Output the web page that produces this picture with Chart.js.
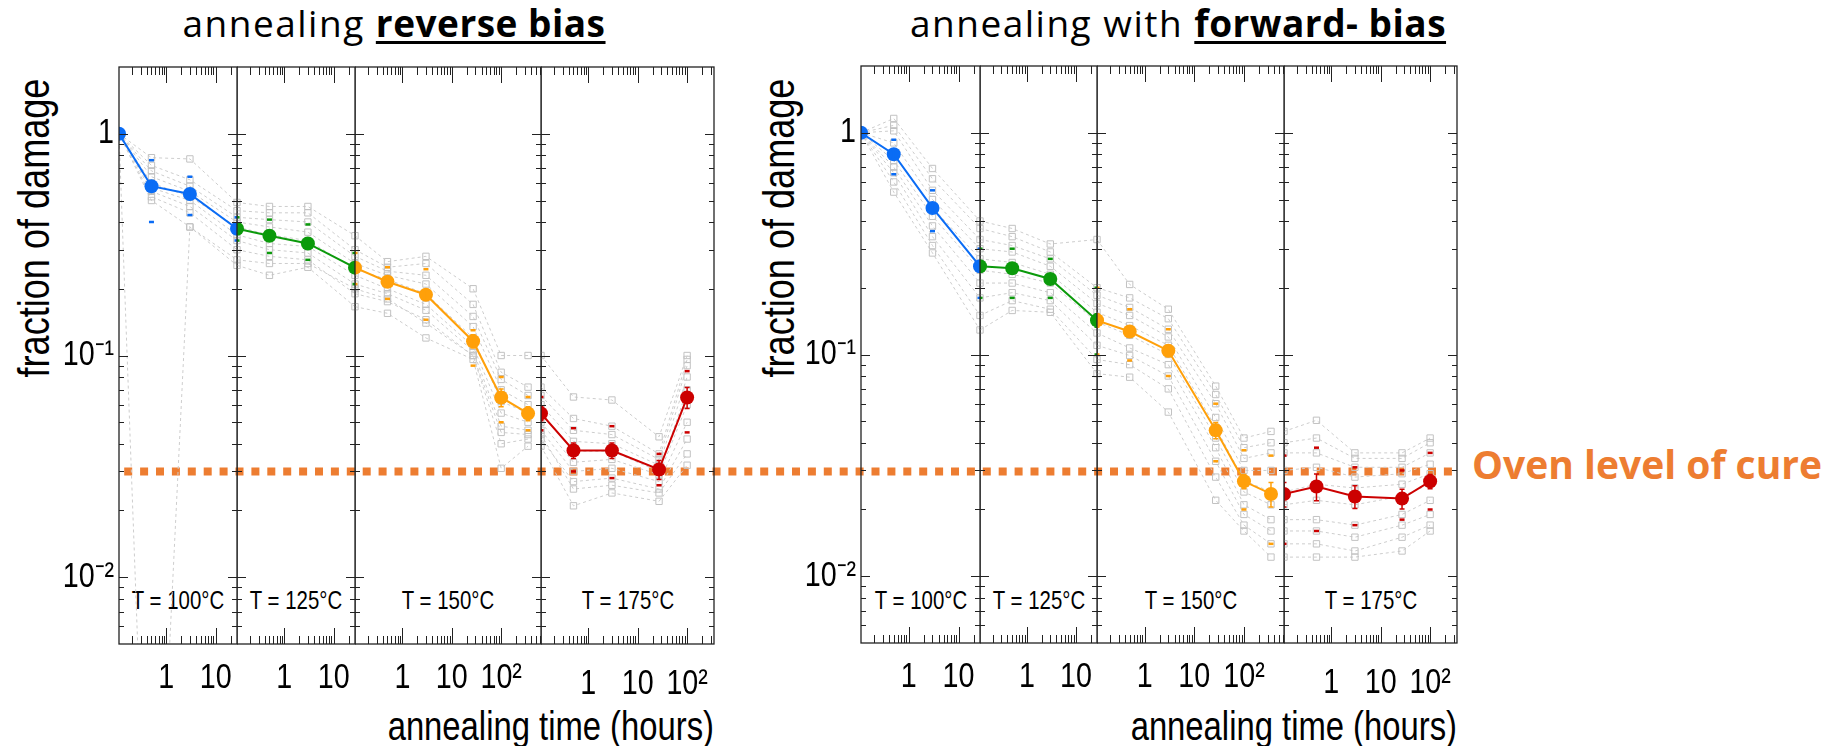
<!DOCTYPE html>
<html>
<head>
<meta charset="utf-8">
<title>annealing</title>
<script src="https://cdn.jsdelivr.net/npm/chart.js@4.4.1/dist/chart.umd.min.js"></script>
<style>
  html, body { margin: 0; padding: 0; background: #fff; }
  #stage { position: relative; width: 1829px; height: 746px; overflow: hidden; }
  .txt { position: absolute; white-space: nowrap; line-height: 1; color: #000; }
  .title { font-family: "Open Sans", sans-serif; font-size: 37px; letter-spacing: 1.5px; transform: translateX(-50%); }
  .title b { letter-spacing: 0.5px; text-decoration: underline; text-decoration-thickness: 3px; text-underline-offset: 4px; }
  .ytitle { font-family: "Liberation Sans", Arial, sans-serif; font-size: 44px; transform: translate(-50%, -50%) rotate(-90deg) scaleX(0.82); }
  .xtitle { font-family: "Liberation Sans", Arial, sans-serif; font-size: 40px; transform-origin: 100% 50%; transform: translateX(-100%) scaleX(0.82); }
  .temp { font-family: "Liberation Sans", sans-serif; font-size: 25.5px; transform: translate(-50%, -50%) scaleX(0.8); }
  .oven { font-family: "Open Sans", sans-serif; font-weight: 700; font-size: 39px; color: #ed7d31; transform: translateY(-50%); }
</style>
</head>
<body>
<div id="stage"></div>
<script>
// annealing steps (one sub-panel each)
const STEP_LABELS = ['T = 100°C', 'T = 125°C', 'T = 150°C', 'T = 175°C'];
const STEP_COLORS = ['#0a6cf5', '#0b9a0b', '#ffa00a', '#cc0000'];

// annealing time axis (hours), log per sub-panel; first point = start of step
const X_MIN = 0.11;
const X_MAX = [27, 27, 640, 350];
const STEP_TIMES = [
  [X_MIN, 0.5, 3, 27],
  [X_MIN, 0.5, 3, 27],
  [X_MIN, 0.5, 3, 27, 100, 350],
  [X_MIN, 0.5, 3, 27, 100],
];
// which of the 16 measurements belong to each step (last of one step = first of next)
const STEP_IDX = [[0, 1, 2, 3], [3, 4, 5, 6], [6, 7, 8, 9, 10, 11], [11, 12, 13, 14, 15]];

const X_TICK_LABELS = [[1, '1'], [10, '10'], [100, '10²']];
const Y_TICK_LABELS = [[1, '1'], [0.1, '10⁻¹'], [0.01, '10⁻²']];
const Y_MIN = 0.005;
const Y_MAX = 2;
const OVEN_LEVEL = 0.03;

// reverse bias: average, error, min/max markers
const REV_MEAN = [1, 0.58, 0.535, 0.373, 0.347, 0.32, 0.249, 0.215, 0.188, 0.116, 0.0647, 0.0548, 0.0373, 0.0373, 0.0306, 0.0647];
const REV_ERR  = [0, 0.03, 0.03, 0.02, 0.015, 0.015, 0.012, 0.01, 0.01, 0.008, 0.006, 0.004, 0.003, 0.003, 0.003, 0.007];
const REV_LO   = [1, 0.40, 0.43, 0.33, 0.29, 0.27, 0.21, 0.18, 0.145, 0.09, 0.05, 0.046, 0.030, 0.028, 0.026, 0.045];
const REV_HI   = [1, 0.76, 0.64, 0.42, 0.41, 0.39, 0.29, 0.25, 0.245, 0.13, 0.08, 0.065, 0.047, 0.048, 0.036, 0.085];
const REV_SAMPLES = [
  [1, 0.78, 0.77, 0.49, 0.47, 0.47, 0.347, 0.265, 0.28, 0.20, 0.10, 0.10, 0.065, 0.063, 0.043, 0.10],
  [1, 0.72, 0.62, 0.45, 0.44, 0.44, 0.30, 0.25, 0.26, 0.17, 0.084, 0.072, 0.052, 0.048, 0.036, 0.096],
  [1, 0.68, 0.58, 0.42, 0.41, 0.40, 0.28, 0.24, 0.23, 0.15, 0.078, 0.066, 0.046, 0.044, 0.034, 0.090],
  [1, 0.64, 0.55, 0.40, 0.38, 0.36, 0.26, 0.23, 0.21, 0.135, 0.070, 0.060, 0.041, 0.040, 0.032, 0.080],
  [1, 0.60, 0.52, 0.38, 0.35, 0.33, 0.245, 0.22, 0.19, 0.12, 0.062, 0.055, 0.037, 0.037, 0.030, 0.070],
  [1, 0.57, 0.50, 0.35, 0.32, 0.31, 0.23, 0.20, 0.17, 0.11, 0.055, 0.050, 0.033, 0.034, 0.029, 0.060],
  [1, 0.55, 0.47, 0.33, 0.30, 0.29, 0.21, 0.19, 0.16, 0.105, 0.048, 0.046, 0.030, 0.031, 0.027, 0.050],
  [1, 0.52, 0.44, 0.30, 0.28, 0.27, 0.19, 0.175, 0.145, 0.10, 0.040, 0.042, 0.027, 0.028, 0.025, 0.042],
  [1, 0.50, 0.38, 0.255, 0.23, 0.25, 0.166, 0.155, 0.12, 0.096, 0.031, 0.039, 0.021, 0.024, 0.022, 0.032],
  [1, 0.0001, 0.38, 0.27, 0.26, 0.26, 0.20, 0.18, 0.14, 0.10, 0.045, 0.044, 0.025, 0.026, 0.024, 0.036],
];

// forward bias
const FWD_MEAN = [1, 0.80, 0.458, 0.25, 0.245, 0.219, 0.1426, 0.127, 0.104, 0.0455, 0.0268, 0.0235, 0.0254, 0.0229, 0.0224, 0.0268];
const FWD_ERR  = [0, 0.03, 0.02, 0.015, 0.01, 0.01, 0.01, 0.006, 0.006, 0.0038, 0.002, 0.003, 0.0035, 0.0027, 0.0023, 0.002];
const FWD_LO   = [1, 0.65, 0.36, 0.18, 0.18, 0.18, 0.10, 0.094, 0.08, 0.033, 0.020, 0.014, 0.016, 0.017, 0.018, 0.020];
const FWD_HI   = [1, 0.93, 0.55, 0.30, 0.30, 0.27, 0.20, 0.16, 0.13, 0.060, 0.037, 0.035, 0.038, 0.031, 0.030, 0.036];
const FWD_SAMPLES = [
  [1, 1.16, 0.69, 0.40, 0.37, 0.315, 0.33, 0.207, 0.16, 0.072, 0.042, 0.045, 0.0505, 0.036, 0.036, 0.042],
  [1, 1.08, 0.62, 0.37, 0.34, 0.29, 0.20, 0.18, 0.145, 0.066, 0.038, 0.040, 0.042, 0.034, 0.034, 0.040],
  [1, 1.02, 0.55, 0.33, 0.31, 0.27, 0.185, 0.163, 0.13, 0.060, 0.034, 0.036, 0.036, 0.031, 0.031, 0.036],
  [1, 0.90, 0.50, 0.30, 0.29, 0.25, 0.17, 0.15, 0.12, 0.052, 0.030, 0.030, 0.031, 0.028, 0.029, 0.032],
  [1, 0.80, 0.46, 0.27, 0.26, 0.23, 0.155, 0.135, 0.11, 0.047, 0.027, 0.024, 0.026, 0.025, 0.026, 0.029],
  [1, 0.75, 0.42, 0.24, 0.23, 0.21, 0.14, 0.122, 0.10, 0.042, 0.024, 0.021, 0.022, 0.021, 0.023, 0.026],
  [1, 0.70, 0.38, 0.21, 0.21, 0.19, 0.125, 0.107, 0.09, 0.038, 0.021, 0.018, 0.018, 0.017, 0.019, 0.022],
  [1, 0.66, 0.34, 0.18, 0.19, 0.175, 0.11, 0.099, 0.08, 0.033, 0.019, 0.016, 0.016, 0.015, 0.017, 0.019],
  [1, 0.60, 0.31, 0.15, 0.175, 0.16, 0.095, 0.09, 0.07, 0.028, 0.017, 0.014, 0.014, 0.013, 0.015, 0.017],
  [1, 0.54, 0.287, 0.129, 0.158, 0.155, 0.082, 0.079, 0.055, 0.022, 0.016, 0.0122, 0.0122, 0.0122, 0.013, 0.016],
];

const PANELS = [
  { title: 'annealing <b>reverse bias</b>', titleX: 394, edges: [119, 237, 355, 541, 714], top: 67,
    mean: REV_MEAN, err: REV_ERR, lo: REV_LO, hi: REV_HI, samples: REV_SAMPLES, yTitleX: 34 },
  { title: 'annealing with <b>forward- bias</b>', titleX: 1178, edges: [861, 980, 1097, 1284, 1457], top: 65.5,
    mean: FWD_MEAN, err: FWD_ERR, lo: FWD_LO, hi: FWD_HI, samples: FWD_SAMPLES, yTitleX: 779 },
];

const PLOT_H = 577;
const PAD_T = 2, PAD_R = 2;
const Y_LABEL_ROOM = 90;
const X_LABEL_ROOM = 70;
const TICK_FONT = { family: '"Liberation Sans", sans-serif', size: 35 };
const NARROW = 0.82; // the original used a narrow Helvetica

// log scale whose tick labels are drawn horizontally squeezed
class NarrowLogScale extends Chart.LogarithmicScale {
  drawLabels(chartArea) {
    if (!this.options.ticks.display) return;
    const ctx = this.ctx;
    for (const item of this.getLabelItems(chartArea)) {
      if (!item.label) continue;
      const [tx, ty] = item.options.translation;
      ctx.save();
      ctx.translate(tx, ty);
      ctx.scale(NARROW, 1);
      ctx.font = item.font.string;
      ctx.fillStyle = item.options.color;
      ctx.textAlign = item.options.textAlign;
      ctx.textBaseline = item.options.textBaseline;
      ctx.fillText(item.label, 0, item.textOffset);
      ctx.restore();
    }
  }
}
NarrowLogScale.id = 'narrowLog';
NarrowLogScale.defaults = Chart.LogarithmicScale.defaults;
Chart.register(NarrowLogScale);

const stage = document.getElementById('stage');

function addText(cls, html, x, y) {
  const el = document.createElement('div');
  el.className = 'txt ' + cls;
  el.innerHTML = html;
  el.style.left = x + 'px';
  el.style.top = y + 'px';
  stage.appendChild(el);
}

function tickLabel(list, v) {
  const hit = list.find(([val]) => Math.abs(Math.log10(v) - Math.log10(val)) < 1e-6);
  return hit ? hit[1] : '';
}

// 1..9 x 10^n inside the scale range
function logMarks(scale) {
  const out = [];
  for (let e = Math.floor(Math.log10(scale.min)); e <= Math.ceil(Math.log10(scale.max)); e++) {
    for (let m = 1; m <= 9; m++) {
      const v = m * Math.pow(10, e);
      if (v > scale.min * 1.0001 && v < scale.max * 0.9999) out.push({ v, major: m === 1 });
    }
  }
  return out;
}

function stepData(values, k) {
  return STEP_IDX[k].map((idx, j) => ({ x: STEP_TIMES[k][j], y: values[idx] }));
}

// frame + inward tick marks, like the original plotting program
const frame = {
  id: 'frame',
  afterDraw(chart) {
    const { ctx, chartArea: a, scales: { x, y } } = chart;
    ctx.save();
    ctx.setLineDash([]);
    ctx.strokeStyle = '#222';
    ctx.lineWidth = 1.3;
    ctx.strokeRect(a.left, a.top, a.right - a.left, a.bottom - a.top);
    ctx.lineWidth = 1;
    ctx.beginPath();
    logMarks(x).forEach(t => {
      const px = Math.round(x.getPixelForValue(t.v)) + 0.5;
      const len = t.major ? 16 : 8;
      ctx.moveTo(px, a.bottom); ctx.lineTo(px, a.bottom - len);
      ctx.moveTo(px, a.top); ctx.lineTo(px, a.top + len);
    });
    logMarks(y).forEach(t => {
      const py = Math.round(y.getPixelForValue(t.v)) + 0.5;
      const len = t.major ? 9 : 5;
      ctx.moveTo(a.left, py); ctx.lineTo(a.left + len, py);
      ctx.moveTo(a.right, py); ctx.lineTo(a.right - len, py);
    });
    ctx.stroke();
    ctx.restore();
  }
};

// vertical error bars on the averaged points
const errorBars = {
  id: 'errorBars',
  afterDatasetsDraw(chart) {
    const { ctx, chartArea: a, scales: { x, y } } = chart;
    ctx.save();
    ctx.setLineDash([]);
    ctx.beginPath();
    ctx.rect(a.left, a.top, a.right - a.left, a.bottom - a.top);
    ctx.clip();
    chart.data.datasets.forEach(ds => {
      if (!ds.errors) return;
      ctx.strokeStyle = ds.borderColor;
      ctx.lineWidth = 1.5;
      ds.data.forEach((p, i) => {
        const e = ds.errors[i];
        if (!e) return;
        const px = x.getPixelForValue(p.x);
        const y1 = y.getPixelForValue(p.y + e), y2 = y.getPixelForValue(p.y - e);
        ctx.beginPath();
        ctx.moveTo(px, y1); ctx.lineTo(px, y2);
        ctx.moveTo(px - 2.5, y1); ctx.lineTo(px + 2.5, y1);
        ctx.moveTo(px - 2.5, y2); ctx.lineTo(px + 2.5, y2);
        ctx.stroke();
      });
    });
    ctx.restore();
  }
};

function buildStep(panel, k) {
  const left = panel.edges[k], right = panel.edges[k + 1];
  const padL = k === 0 ? Y_LABEL_ROOM : 0;
  const canvas = document.createElement('canvas');
  canvas.width = right - left + padL + PAD_R;
  canvas.height = PLOT_H + PAD_T + X_LABEL_ROOM;
  canvas.style.cssText = `position:absolute;left:${left - padL}px;top:${panel.top - PAD_T}px;z-index:2`;
  stage.appendChild(canvas);

  const color = STEP_COLORS[k];
  const marks = [];
  STEP_IDX[k].forEach((i, j) => {
    if (i === 0) return;
    marks.push({ x: STEP_TIMES[k][j], y: panel.lo[i] }, { x: STEP_TIMES[k][j], y: panel.hi[i] });
  });

  const datasets = [
    {
      data: stepData(panel.mean, k),
      errors: STEP_IDX[k].map(i => panel.err[i]),
      borderColor: color, backgroundColor: color, borderWidth: 2,
      pointRadius: 7, pointHoverRadius: 7, pointBorderWidth: 0,
      order: 0, clip: 0,
    },
    {
      data: marks, showLine: false,
      pointStyle: 'line', pointRadius: 2.5, pointBorderWidth: 2.5,
      borderColor: color, order: 1, clip: 0,
    },
    ...panel.samples.map(s => ({
      data: stepData(s, k),
      borderColor: '#cdcdcd', borderWidth: 1, borderDash: [3, 3],
      pointStyle: 'rect', pointRadius: 4.5, pointBorderWidth: 1,
      pointBorderColor: '#c2c2c2', pointBackgroundColor: 'rgba(255,255,255,0)',
      order: 2, clip: 0,
    })),
  ];

  new Chart(canvas, {
    type: 'line',
    data: { datasets },
    options: {
      responsive: false,
      animation: false,
      events: [],
      layout: { autoPadding: false, padding: { left: 0, right: PAD_R, top: PAD_T, bottom: 0 } },
      plugins: { legend: { display: false }, tooltip: { enabled: false } },
      scales: {
        x: {
          type: 'narrowLog', min: X_MIN, max: X_MAX[k],
          afterFit: s => { s.height = X_LABEL_ROOM; s.paddingLeft = 0; s.paddingRight = 0; },
          grid: { display: false, drawTicks: false },
          border: { display: false },
          ticks: {
            autoSkip: false, maxRotation: 0, color: '#000', font: TICK_FONT,
            padding: k === 3 ? 19 : 13,
            callback: v => tickLabel(X_TICK_LABELS, v),
          },
        },
        y: {
          type: 'narrowLog', min: Y_MIN, max: Y_MAX, display: k === 0,
          afterFit: s => { s.width = padL; s.paddingTop = 0; s.paddingBottom = 0; },
          grid: { display: false, drawTicks: false },
          border: { display: false },
          ticks: {
            autoSkip: false, color: '#000', font: TICK_FONT, padding: 5,
            callback: v => tickLabel(Y_TICK_LABELS, v),
          },
        },
      },
    },
    plugins: [frame, errorBars],
  });

  addText('temp', STEP_LABELS[k], (left + right) / 2, 601);
}

PANELS.forEach(panel => {
  addText('title', panel.title, panel.titleX, 4);
  addText('ytitle', 'fraction of damage', panel.yTitleX, 228);
  addText('xtitle', 'annealing time (hours)', panel.edges[4], 706);
  for (let k = 0; k < 4; k++) buildStep(panel, k);
});

// oven reference line across both panels
const ovenFrom = PANELS[0].edges[0], ovenTo = PANELS[1].edges[4];
const ovenCanvas = document.createElement('canvas');
ovenCanvas.width = ovenTo - ovenFrom;
ovenCanvas.height = PLOT_H + PAD_T;
ovenCanvas.style.cssText = `position:absolute;left:${ovenFrom}px;top:${PANELS[0].top - PAD_T}px;z-index:1`;
stage.appendChild(ovenCanvas);
new Chart(ovenCanvas, {
  type: 'line',
  data: { datasets: [{
    data: [{ x: 0, y: OVEN_LEVEL }, { x: 1, y: OVEN_LEVEL }],
    borderColor: '#ed7d31', borderWidth: 8, borderDash: [8, 7.9], borderDashOffset: 10.7,
    pointRadius: 0, clip: false,
  }] },
  options: {
    responsive: false, animation: false, events: [],
    layout: { autoPadding: false, padding: { top: PAD_T, left: 0, right: 0, bottom: 0 } },
    plugins: { legend: { display: false }, tooltip: { enabled: false } },
    scales: {
      x: { type: 'linear', min: 0, max: 1, display: false },
      y: { type: 'logarithmic', min: Y_MIN, max: Y_MAX, display: false },
    },
  },
});
addText('oven', 'Oven level of cure', 1472, 463);
</script>
</body>
</html>
